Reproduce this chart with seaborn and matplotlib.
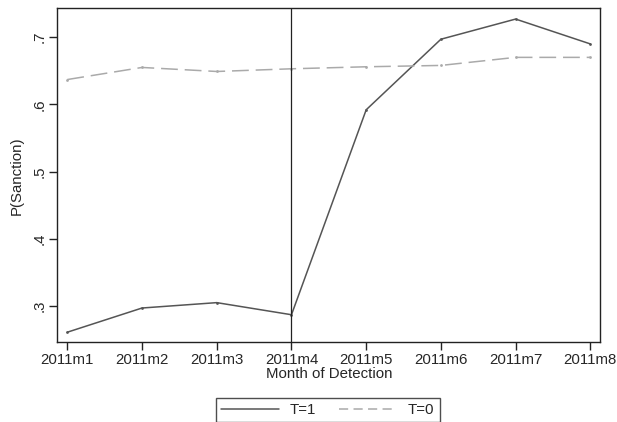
import pandas as pd
import numpy as np
import seaborn as sns
import matplotlib.pyplot as plt

months = ["2011m1", "2011m2", "2011m3", "2011m4", "2011m5", "2011m6", "2011m7", "2011m8"]
t1 = [0.261, 0.297, 0.305, 0.287, 0.592, 0.697, 0.727, 0.690]
t0 = [0.637, 0.655, 0.649, 0.653, 0.656, 0.658, 0.670, 0.670]
yticks = [0.3, 0.4, 0.5, 0.6, 0.7]
ytick_labels = [".3", ".4", ".5", ".6", ".7"]

df = pd.DataFrame({
    "month": list(range(len(months))) * 2,
    "p": t1 + t0,
    "group": ["T=1"] * len(t1) + ["T=0"] * len(t0),
})

sns.set_style("ticks")
plt.rcParams["font.family"] = ["Liberation Sans", "DejaVu Sans"]

fig = plt.figure(figsize=(6.17, 4.22), dpi=100)
ax = fig.add_axes([0.0929, 0.1889, 0.8801, 0.7914])

sns.lineplot(data=df, x="month", y="p", hue="group", style="group",
             palette={"T=1": "#555555", "T=0": "#aaaaaa"},
             dashes={"T=1": "", "T=0": (11, 4.5)},
             markers={"T=1": "o", "T=0": "o"}, markersize=2, markeredgewidth=0,
             linewidth=1.1, ax=ax, legend=False)

ax.axvline(3, color="#222222", linewidth=0.9)

ax.set_xlim(-0.134, 7.134)
ax.set_ylim(0.246, 0.743)
ax.set_xticks(range(len(months)))
ax.set_xticklabels(months)
ax.set_yticks(yticks)
ax.set_yticklabels(ytick_labels, rotation=90, va="center")
ax.tick_params(direction="out", length=6, width=1, color="#222222", labelsize=10.8, pad=2)
for s in ax.spines.values():
    s.set_color("#222222")
    s.set_linewidth(1)

ax.set_xlabel("Month of Detection", fontsize=10.8, labelpad=0)
ax.set_ylabel("P(Sanction)", fontsize=10.8, labelpad=6)

h1, = ax.plot([], [], color="#555555", linewidth=1.1)
h0, = ax.plot([], [], color="#aaaaaa", linewidth=1.1, dashes=(6, 3.5))
leg = fig.legend([h1, h0], ["T=1", "T=0"], loc="upper center",
                 bbox_to_anchor=(0.531, 0.0576), ncol=2, fontsize=10.8,
                 frameon=True, fancybox=False, handlelength=3.9,
                 handletextpad=0.7, columnspacing=1.5, borderpad=0.35,
                 borderaxespad=0)
leg.get_frame().set_edgecolor("#222222")
leg.get_frame().set_linewidth(1)

fig.savefig("out.png", dpi=100)
